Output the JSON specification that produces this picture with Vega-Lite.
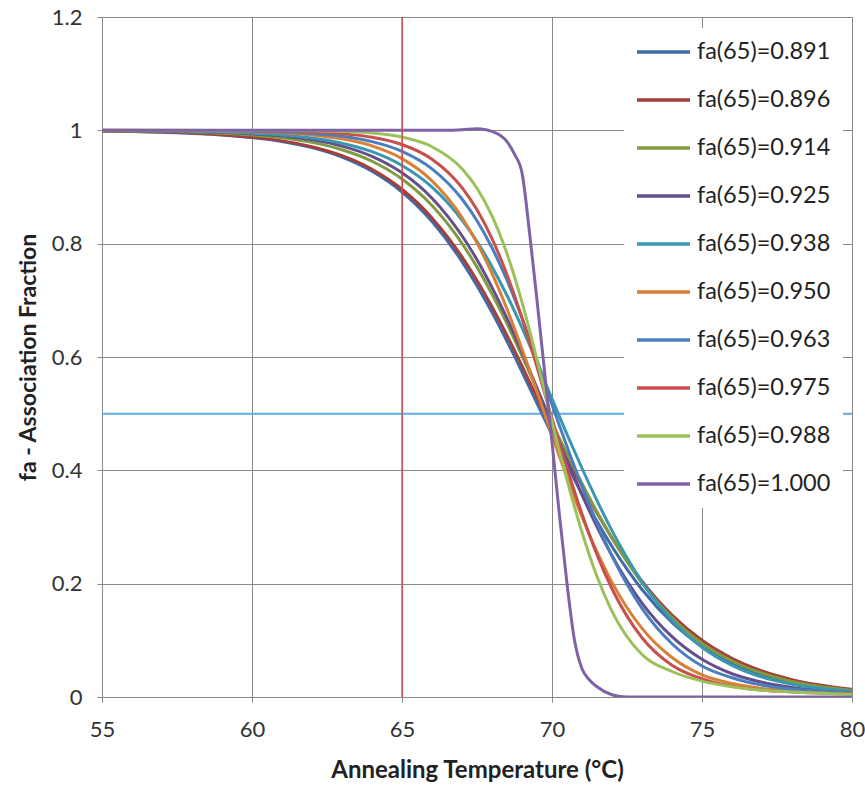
{
"$schema": "https://vega.github.io/schema/vega-lite/v6.json",
"width": 750, "height": 680,
"autosize": {"type": "none"},
"padding": {"left": 102, "top": 17, "right": 13, "bottom": 90},
"background": "white",
"config": {"view": {"stroke": null},
 "axis": {"gridColor": "#888888", "gridWidth": 1, "domainColor": "#888888", "tickColor": "#888888", "tickSize": 5, "labelFont": "Lato", "titleFont": "Lato", "labelColor": "#333333", "titleColor": "#222222", "labelFontSize": 22, "labelFlush": false, "titleFontWeight": "bold"}},
"datasets": {"curves": [
{"T":55,"fa":0.9987,"s":"fa(65)=0.891"},{"T":57,"fa":0.9967,"s":"fa(65)=0.891"},{"T":59,"fa":0.9919,"s":"fa(65)=0.891"},{"T":61,"fa":0.9802,"s":"fa(65)=0.891"},{"T":62,"fa":0.9694,"s":"fa(65)=0.891"},{"T":63,"fa":0.9527,"s":"fa(65)=0.891"},{"T":64,"fa":0.9277,"s":"fa(65)=0.891"},{"T":65,"fa":0.891,"s":"fa(65)=0.891"},{"T":66,"fa":0.839,"s":"fa(65)=0.891"},{"T":67,"fa":0.7684,"s":"fa(65)=0.891"},{"T":67.5,"fa":0.7258,"s":"fa(65)=0.891"},{"T":68,"fa":0.6788,"s":"fa(65)=0.891"},{"T":68.5,"fa":0.6278,"s":"fa(65)=0.891"},{"T":69,"fa":0.5739,"s":"fa(65)=0.891"},{"T":69.5,"fa":0.518,"s":"fa(65)=0.891"},{"T":70,"fa":0.4632,"s":"fa(65)=0.891"},{"T":70.5,"fa":0.4097,"s":"fa(65)=0.891"},{"T":71,"fa":0.3583,"s":"fa(65)=0.891"},{"T":71.5,"fa":0.31,"s":"fa(65)=0.891"},{"T":72,"fa":0.2655,"s":"fa(65)=0.891"},{"T":73,"fa":0.1897,"s":"fa(65)=0.891"},{"T":74,"fa":0.1316,"s":"fa(65)=0.891"},{"T":75,"fa":0.0893,"s":"fa(65)=0.891"},{"T":76,"fa":0.0597,"s":"fa(65)=0.891"},{"T":77,"fa":0.0395,"s":"fa(65)=0.891"},{"T":78,"fa":0.0259,"s":"fa(65)=0.891"},{"T":80,"fa":0.011,"s":"fa(65)=0.891"},
{"T":55,"fa":0.9988,"s":"fa(65)=0.896"},{"T":57,"fa":0.9969,"s":"fa(65)=0.896"},{"T":59,"fa":0.9924,"s":"fa(65)=0.896"},{"T":61,"fa":0.9814,"s":"fa(65)=0.896"},{"T":62,"fa":0.9711,"s":"fa(65)=0.896"},{"T":63,"fa":0.9552,"s":"fa(65)=0.896"},{"T":64,"fa":0.9313,"s":"fa(65)=0.896"},{"T":65,"fa":0.896,"s":"fa(65)=0.896"},{"T":66,"fa":0.8455,"s":"fa(65)=0.896"},{"T":67,"fa":0.7767,"s":"fa(65)=0.896"},{"T":67.5,"fa":0.735,"s":"fa(65)=0.896"},{"T":68,"fa":0.6886,"s":"fa(65)=0.896"},{"T":68.5,"fa":0.638,"s":"fa(65)=0.896"},{"T":69,"fa":0.5842,"s":"fa(65)=0.896"},{"T":69.5,"fa":0.5283,"s":"fa(65)=0.896"},{"T":70,"fa":0.4739,"s":"fa(65)=0.896"},{"T":70.5,"fa":0.4222,"s":"fa(65)=0.896"},{"T":71,"fa":0.3722,"s":"fa(65)=0.896"},{"T":71.5,"fa":0.3247,"s":"fa(65)=0.896"},{"T":72,"fa":0.2806,"s":"fa(65)=0.896"},{"T":73,"fa":0.2043,"s":"fa(65)=0.896"},{"T":74,"fa":0.1445,"s":"fa(65)=0.896"},{"T":75,"fa":0.1,"s":"fa(65)=0.896"},{"T":76,"fa":0.0682,"s":"fa(65)=0.896"},{"T":77,"fa":0.0459,"s":"fa(65)=0.896"},{"T":78,"fa":0.0307,"s":"fa(65)=0.896"},{"T":80,"fa":0.0135,"s":"fa(65)=0.896"},
{"T":55,"fa":0.9993,"s":"fa(65)=0.914"},{"T":57,"fa":0.9981,"s":"fa(65)=0.914"},{"T":59,"fa":0.995,"s":"fa(65)=0.914"},{"T":61,"fa":0.9868,"s":"fa(65)=0.914"},{"T":62,"fa":0.9787,"s":"fa(65)=0.914"},{"T":63,"fa":0.9657,"s":"fa(65)=0.914"},{"T":64,"fa":0.9454,"s":"fa(65)=0.914"},{"T":65,"fa":0.914,"s":"fa(65)=0.914"},{"T":66,"fa":0.8672,"s":"fa(65)=0.914"},{"T":67,"fa":0.8004,"s":"fa(65)=0.914"},{"T":67.5,"fa":0.7586,"s":"fa(65)=0.914"},{"T":68,"fa":0.7113,"s":"fa(65)=0.914"},{"T":68.5,"fa":0.6588,"s":"fa(65)=0.914"},{"T":69,"fa":0.6021,"s":"fa(65)=0.914"},{"T":69.5,"fa":0.5425,"s":"fa(65)=0.914"},{"T":70,"fa":0.4836,"s":"fa(65)=0.914"},{"T":70.5,"fa":0.4294,"s":"fa(65)=0.914"},{"T":71,"fa":0.3768,"s":"fa(65)=0.914"},{"T":71.5,"fa":0.3269,"s":"fa(65)=0.914"},{"T":72,"fa":0.2807,"s":"fa(65)=0.914"},{"T":73,"fa":0.2012,"s":"fa(65)=0.914"},{"T":74,"fa":0.1399,"s":"fa(65)=0.914"},{"T":75,"fa":0.095,"s":"fa(65)=0.914"},{"T":76,"fa":0.0635,"s":"fa(65)=0.914"},{"T":77,"fa":0.0419,"s":"fa(65)=0.914"},{"T":78,"fa":0.0275,"s":"fa(65)=0.914"},{"T":80,"fa":0.0116,"s":"fa(65)=0.914"},
{"T":55,"fa":0.9995,"s":"fa(65)=0.925"},{"T":57,"fa":0.9987,"s":"fa(65)=0.925"},{"T":59,"fa":0.9964,"s":"fa(65)=0.925"},{"T":61,"fa":0.9899,"s":"fa(65)=0.925"},{"T":62,"fa":0.9832,"s":"fa(65)=0.925"},{"T":63,"fa":0.9721,"s":"fa(65)=0.925"},{"T":64,"fa":0.954,"s":"fa(65)=0.925"},{"T":65,"fa":0.925,"s":"fa(65)=0.925"},{"T":66,"fa":0.8803,"s":"fa(65)=0.925"},{"T":67,"fa":0.814,"s":"fa(65)=0.925"},{"T":67.5,"fa":0.7717,"s":"fa(65)=0.925"},{"T":68,"fa":0.7228,"s":"fa(65)=0.925"},{"T":68.5,"fa":0.6681,"s":"fa(65)=0.925"},{"T":69,"fa":0.6084,"s":"fa(65)=0.925"},{"T":69.5,"fa":0.5452,"s":"fa(65)=0.925"},{"T":70,"fa":0.4808,"s":"fa(65)=0.925"},{"T":70.5,"fa":0.4174,"s":"fa(65)=0.925"},{"T":71,"fa":0.3567,"s":"fa(65)=0.925"},{"T":71.5,"fa":0.3002,"s":"fa(65)=0.925"},{"T":72,"fa":0.2492,"s":"fa(65)=0.925"},{"T":73,"fa":0.1658,"s":"fa(65)=0.925"},{"T":74,"fa":0.1064,"s":"fa(65)=0.925"},{"T":75,"fa":0.0665,"s":"fa(65)=0.925"},{"T":76,"fa":0.041,"s":"fa(65)=0.925"},{"T":77,"fa":0.026,"s":"fa(65)=0.925"},{"T":78,"fa":0.017,"s":"fa(65)=0.925"},{"T":80,"fa":0.008,"s":"fa(65)=0.925"},
{"T":55,"fa":0.9996,"s":"fa(65)=0.938"},{"T":57,"fa":0.999,"s":"fa(65)=0.938"},{"T":59,"fa":0.9971,"s":"fa(65)=0.938"},{"T":61,"fa":0.9919,"s":"fa(65)=0.938"},{"T":62,"fa":0.9864,"s":"fa(65)=0.938"},{"T":63,"fa":0.9773,"s":"fa(65)=0.938"},{"T":64,"fa":0.9623,"s":"fa(65)=0.938"},{"T":65,"fa":0.938,"s":"fa(65)=0.938"},{"T":66,"fa":0.8998,"s":"fa(65)=0.938"},{"T":67,"fa":0.8418,"s":"fa(65)=0.938"},{"T":67.5,"fa":0.8039,"s":"fa(65)=0.938"},{"T":68,"fa":0.7594,"s":"fa(65)=0.938"},{"T":68.5,"fa":0.7085,"s":"fa(65)=0.938"},{"T":69,"fa":0.6518,"s":"fa(65)=0.938"},{"T":69.5,"fa":0.5904,"s":"fa(65)=0.938"},{"T":70,"fa":0.5261,"s":"fa(65)=0.938"},{"T":70.5,"fa":0.4635,"s":"fa(65)=0.938"},{"T":71,"fa":0.4037,"s":"fa(65)=0.938"},{"T":71.5,"fa":0.3466,"s":"fa(65)=0.938"},{"T":72,"fa":0.2936,"s":"fa(65)=0.938"},{"T":73,"fa":0.2033,"s":"fa(65)=0.938"},{"T":74,"fa":0.1354,"s":"fa(65)=0.938"},{"T":75,"fa":0.0877,"s":"fa(65)=0.938"},{"T":76,"fa":0.0558,"s":"fa(65)=0.938"},{"T":77,"fa":0.035,"s":"fa(65)=0.938"},{"T":78,"fa":0.0225,"s":"fa(65)=0.938"},{"T":80,"fa":0.01,"s":"fa(65)=0.938"},
{"T":55,"fa":0.9999,"s":"fa(65)=0.950"},{"T":57,"fa":0.9996,"s":"fa(65)=0.950"},{"T":59,"fa":0.9987,"s":"fa(65)=0.950"},{"T":61,"fa":0.9956,"s":"fa(65)=0.950"},{"T":62,"fa":0.9919,"s":"fa(65)=0.950"},{"T":63,"fa":0.985,"s":"fa(65)=0.950"},{"T":64,"fa":0.9725,"s":"fa(65)=0.950"},{"T":65,"fa":0.95,"s":"fa(65)=0.950"},{"T":66,"fa":0.9109,"s":"fa(65)=0.950"},{"T":67,"fa":0.8462,"s":"fa(65)=0.950"},{"T":67.5,"fa":0.8014,"s":"fa(65)=0.950"},{"T":68,"fa":0.7474,"s":"fa(65)=0.950"},{"T":68.5,"fa":0.6846,"s":"fa(65)=0.950"},{"T":69,"fa":0.6142,"s":"fa(65)=0.950"},{"T":69.5,"fa":0.5387,"s":"fa(65)=0.950"},{"T":70,"fa":0.4619,"s":"fa(65)=0.950"},{"T":70.5,"fa":0.3876,"s":"fa(65)=0.950"},{"T":71,"fa":0.3182,"s":"fa(65)=0.950"},{"T":71.5,"fa":0.2559,"s":"fa(65)=0.950"},{"T":72,"fa":0.2023,"s":"fa(65)=0.950"},{"T":73,"fa":0.1211,"s":"fa(65)=0.950"},{"T":74,"fa":0.0697,"s":"fa(65)=0.950"},{"T":75,"fa":0.0391,"s":"fa(65)=0.950"},{"T":76,"fa":0.024,"s":"fa(65)=0.950"},{"T":77,"fa":0.015,"s":"fa(65)=0.950"},{"T":78,"fa":0.01,"s":"fa(65)=0.950"},{"T":80,"fa":0.006,"s":"fa(65)=0.950"},
{"T":55,"fa":0.9999,"s":"fa(65)=0.963"},{"T":57,"fa":0.9998,"s":"fa(65)=0.963"},{"T":59,"fa":0.9992,"s":"fa(65)=0.963"},{"T":61,"fa":0.997,"s":"fa(65)=0.963"},{"T":62,"fa":0.9944,"s":"fa(65)=0.963"},{"T":63,"fa":0.9894,"s":"fa(65)=0.963"},{"T":64,"fa":0.9801,"s":"fa(65)=0.963"},{"T":65,"fa":0.963,"s":"fa(65)=0.963"},{"T":66,"fa":0.9321,"s":"fa(65)=0.963"},{"T":67,"fa":0.8788,"s":"fa(65)=0.963"},{"T":67.5,"fa":0.8404,"s":"fa(65)=0.963"},{"T":68,"fa":0.7928,"s":"fa(65)=0.963"},{"T":68.5,"fa":0.7354,"s":"fa(65)=0.963"},{"T":69,"fa":0.6688,"s":"fa(65)=0.963"},{"T":69.5,"fa":0.5947,"s":"fa(65)=0.963"},{"T":70,"fa":0.516,"s":"fa(65)=0.963"},{"T":70.5,"fa":0.4421,"s":"fa(65)=0.963"},{"T":71,"fa":0.3721,"s":"fa(65)=0.963"},{"T":71.5,"fa":0.307,"s":"fa(65)=0.963"},{"T":72,"fa":0.2489,"s":"fa(65)=0.963"},{"T":73,"fa":0.1563,"s":"fa(65)=0.963"},{"T":74,"fa":0.0939,"s":"fa(65)=0.963"},{"T":75,"fa":0.0547,"s":"fa(65)=0.963"},{"T":76,"fa":0.034,"s":"fa(65)=0.963"},{"T":77,"fa":0.021,"s":"fa(65)=0.963"},{"T":78,"fa":0.014,"s":"fa(65)=0.963"},{"T":80,"fa":0.007,"s":"fa(65)=0.963"},
{"T":55,"fa":1.0,"s":"fa(65)=0.975"},{"T":57,"fa":0.9999,"s":"fa(65)=0.975"},{"T":59,"fa":0.9997,"s":"fa(65)=0.975"},{"T":61,"fa":0.9987,"s":"fa(65)=0.975"},{"T":62,"fa":0.9972,"s":"fa(65)=0.975"},{"T":63,"fa":0.9942,"s":"fa(65)=0.975"},{"T":64,"fa":0.9879,"s":"fa(65)=0.975"},{"T":65,"fa":0.975,"s":"fa(65)=0.975"},{"T":66,"fa":0.949,"s":"fa(65)=0.975"},{"T":67,"fa":0.8988,"s":"fa(65)=0.975"},{"T":67.5,"fa":0.8598,"s":"fa(65)=0.975"},{"T":68,"fa":0.809,"s":"fa(65)=0.975"},{"T":68.5,"fa":0.7452,"s":"fa(65)=0.975"},{"T":69,"fa":0.6689,"s":"fa(65)=0.975"},{"T":69.5,"fa":0.5825,"s":"fa(65)=0.975"},{"T":70,"fa":0.4912,"s":"fa(65)=0.975"},{"T":70.5,"fa":0.4044,"s":"fa(65)=0.975"},{"T":71,"fa":0.3231,"s":"fa(65)=0.975"},{"T":71.5,"fa":0.2513,"s":"fa(65)=0.975"},{"T":72,"fa":0.191,"s":"fa(65)=0.975"},{"T":73,"fa":0.1045,"s":"fa(65)=0.975"},{"T":74,"fa":0.056,"s":"fa(65)=0.975"},{"T":75,"fa":0.032,"s":"fa(65)=0.975"},{"T":76,"fa":0.019,"s":"fa(65)=0.975"},{"T":77,"fa":0.012,"s":"fa(65)=0.975"},{"T":78,"fa":0.009,"s":"fa(65)=0.975"},{"T":80,"fa":0.006,"s":"fa(65)=0.975"},
{"T":55,"fa":1.0,"s":"fa(65)=0.988"},{"T":57,"fa":1.0,"s":"fa(65)=0.988"},{"T":59,"fa":0.9999,"s":"fa(65)=0.988"},{"T":61,"fa":0.9997,"s":"fa(65)=0.988"},{"T":62,"fa":0.9992,"s":"fa(65)=0.988"},{"T":63,"fa":0.998,"s":"fa(65)=0.988"},{"T":64,"fa":0.9951,"s":"fa(65)=0.988"},{"T":65,"fa":0.988,"s":"fa(65)=0.988"},{"T":66,"fa":0.9711,"s":"fa(65)=0.988"},{"T":67,"fa":0.9322,"s":"fa(65)=0.988"},{"T":67.5,"fa":0.8978,"s":"fa(65)=0.988"},{"T":68,"fa":0.8489,"s":"fa(65)=0.988"},{"T":68.5,"fa":0.7823,"s":"fa(65)=0.988"},{"T":69,"fa":0.6967,"s":"fa(65)=0.988"},{"T":69.5,"fa":0.595,"s":"fa(65)=0.988"},{"T":70,"fa":0.4854,"s":"fa(65)=0.988"},{"T":70.5,"fa":0.3834,"s":"fa(65)=0.988"},{"T":71,"fa":0.2908,"s":"fa(65)=0.988"},{"T":71.5,"fa":0.2127,"s":"fa(65)=0.988"},{"T":72,"fa":0.1512,"s":"fa(65)=0.988"},{"T":73,"fa":0.075,"s":"fa(65)=0.988"},{"T":74,"fa":0.045,"s":"fa(65)=0.988"},{"T":75,"fa":0.028,"s":"fa(65)=0.988"},{"T":76,"fa":0.018,"s":"fa(65)=0.988"},{"T":77,"fa":0.012,"s":"fa(65)=0.988"},{"T":78,"fa":0.009,"s":"fa(65)=0.988"},{"T":80,"fa":0.005,"s":"fa(65)=0.988"},
{"T":55,"fa":1.0,"s":"fa(65)=1.000"},{"T":60,"fa":1.0,"s":"fa(65)=1.000"},{"T":65,"fa":1.0,"s":"fa(65)=1.000"},{"T":66.5,"fa":1.0,"s":"fa(65)=1.000"},{"T":67,"fa":1.001,"s":"fa(65)=1.000"},{"T":67.5,"fa":1.003,"s":"fa(65)=1.000"},{"T":67.8,"fa":1.001,"s":"fa(65)=1.000"},{"T":68,"fa":0.998,"s":"fa(65)=1.000"},{"T":68.5,"fa":0.98,"s":"fa(65)=1.000"},{"T":68.75,"fa":0.958,"s":"fa(65)=1.000"},{"T":69,"fa":0.925,"s":"fa(65)=1.000"},{"T":69.25,"fa":0.82,"s":"fa(65)=1.000"},{"T":69.5,"fa":0.7,"s":"fa(65)=1.000"},{"T":69.75,"fa":0.575,"s":"fa(65)=1.000"},{"T":70,"fa":0.45,"s":"fa(65)=1.000"},{"T":70.25,"fa":0.32,"s":"fa(65)=1.000"},{"T":70.5,"fa":0.2,"s":"fa(65)=1.000"},{"T":70.75,"fa":0.1,"s":"fa(65)=1.000"},{"T":71,"fa":0.05,"s":"fa(65)=1.000"},{"T":71.25,"fa":0.03,"s":"fa(65)=1.000"},{"T":71.5,"fa":0.018,"s":"fa(65)=1.000"},{"T":72,"fa":0.004,"s":"fa(65)=1.000"},{"T":72.5,"fa":0.0,"s":"fa(65)=1.000"},{"T":75,"fa":0.0,"s":"fa(65)=1.000"},{"T":80,"fa":0.0,"s":"fa(65)=1.000"}
]},
"layer": [
 {"data": {"values": [{"y": 0.5}]},
  "mark": {"type": "rule", "color": "#5DADE2", "strokeWidth": 2},
  "encoding": {"y": {"field": "y", "type": "quantitative", "scale": {"domain": [0, 1.2], "nice": false, "zero": false}}}},
 {"data": {"name": "curves"},
  "mark": {"type": "line", "strokeWidth": 3, "interpolate": "monotone", "clip": true},
  "encoding": {
   "x": {"field": "T", "type": "quantitative", "scale": {"domain": [55, 80], "nice": false, "zero": false},
     "axis": {"values": [55, 60, 65, 70, 75, 80], "title": "Annealing Temperature (°C)", "titleFontSize": 24, "labelPadding": 17, "titlePadding": 18}},
   "y": {"field": "fa", "type": "quantitative", "scale": {"domain": [0, 1.2], "nice": false, "zero": false},
     "axis": {"values": [0, 0.2, 0.4, 0.6, 0.8, 1, 1.2], "format": "~g", "title": "fa - Association Fraction", "titleFontSize": 23, "labelPadding": 15, "titlePadding": 11}},
   "color": {"field": "s", "type": "nominal",
     "scale": {"domain": ["fa(65)=0.891","fa(65)=0.896","fa(65)=0.914","fa(65)=0.925","fa(65)=0.938","fa(65)=0.950","fa(65)=0.963","fa(65)=0.975","fa(65)=0.988","fa(65)=1.000"],
       "range": ["#3F6BA8","#A53F3B","#7F9C40","#654E8C","#3A97B2","#DA7F36","#4A7EBF","#C7504C","#9CC05A","#7F62A6"]},
     "legend": {"title": null, "orient": "none", "legendX": 522, "legendY": 11, "fillColor": "white", "padding": 12,
       "symbolType": "M-1.1,0H4.2", "symbolSize": 400, "symbolStrokeWidth": 3.5, "labelOffset": 37,
       "labelFont": "Lato", "labelFontSize": 23.5, "labelColor": "#222222", "rowPadding": 24}}}},
 {"data": {"values": [{"x": 65}]},
  "mark": {"type": "rule", "color": "#E8403C", "strokeWidth": 1.5, "opacity": 0.9},
  "encoding": {"x": {"field": "x", "type": "quantitative"}}}
]
}
